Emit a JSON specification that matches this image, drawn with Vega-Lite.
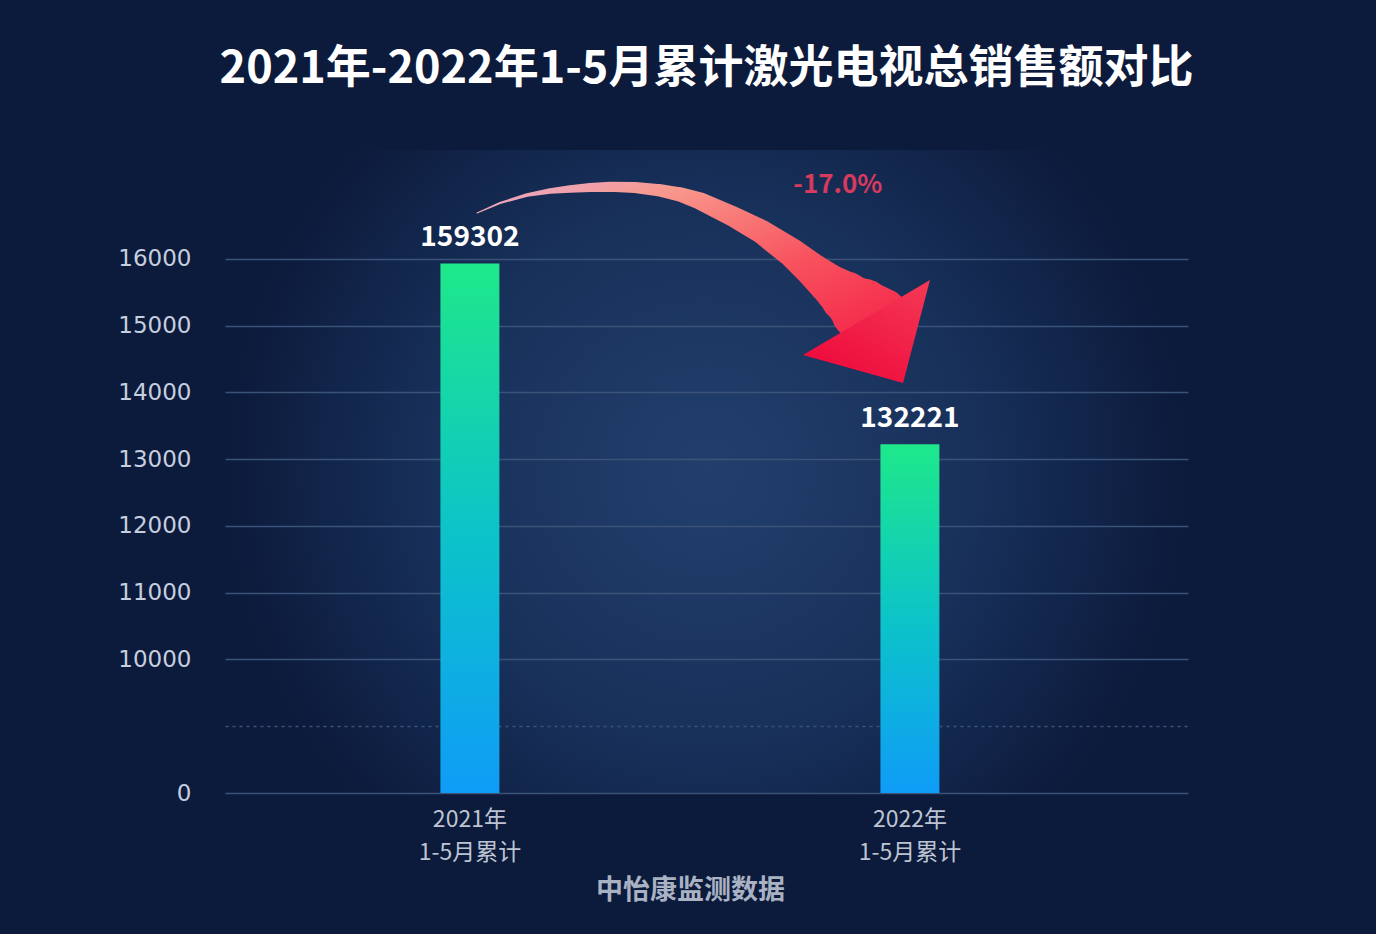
{
  "$schema": "https://vega.github.io/schema/vega-lite/v6.json",
  "autosize": {"type": "none"},
  "padding": {"left": 225, "top": 150, "right": 188, "bottom": 141},
  "width": 963,
  "height": 643,
  "background": "#0c1a3b",
  "view": {
    "stroke": null,
    "fill": {
      "gradient": "radial",
      "x1": 0.5, "y1": 0.5, "r1": 0,
      "x2": 0.5, "y2": 0.5, "r2": 0.5,
      "stops": [
        {"offset": 0, "color": "#223f6c"},
        {"offset": 0.55, "color": "#18315b"},
        {"offset": 1, "color": "#0c1a3b"}
      ]
    }
  },
  "title": {
    "text": "2021年-2022年1-5月累计激光电视总销售额对比",
    "font": "Noto Sans CJK SC",
    "fontSize": 45,
    "fontWeight": "bold",
    "color": "#ffffff",
    "anchor": "middle",
    "offset": 58
  },
  "datasets": {
    "sales": [
      {"period": "2021年|1-5月累计", "value": 159302},
      {"period": "2022年|1-5月累计", "value": 132221}
    ],
    "arrow": [
      {"i": 1, "ax": 0.0159, "ay": 166863, "w": 0.014},
      {"i": 2, "ax": 0.0682, "ay": 168361, "w": 0.029},
      {"i": 3, "ax": 0.1295, "ay": 169560, "w": 0.05},
      {"i": 4, "ax": 0.1818, "ay": 170159, "w": 0.079},
      {"i": 5, "ax": 0.2273, "ay": 170459, "w": 0.107},
      {"i": 6, "ax": 0.2727, "ay": 170683, "w": 0.129},
      {"i": 7, "ax": 0.3182, "ay": 170803, "w": 0.143},
      {"i": 8, "ax": 0.375, "ay": 170683, "w": 0.157},
      {"i": 9, "ax": 0.4318, "ay": 170249, "w": 0.179},
      {"i": 10, "ax": 0.4773, "ay": 169635, "w": 0.207},
      {"i": 11, "ax": 0.5227, "ay": 168661, "w": 0.25},
      {"i": 12, "ax": 0.5977, "ay": 166338, "w": 0.293},
      {"i": 13, "ax": 0.6636, "ay": 164016, "w": 0.343},
      {"i": 14, "ax": 0.7318, "ay": 160870, "w": 0.414},
      {"i": 15, "ax": 0.7727, "ay": 158622, "w": 0.471},
      {"i": 16, "ax": 0.8136, "ay": 156375, "w": 0.571},
      {"i": 17, "ax": 0.8545, "ay": 154277, "w": 0.729},
      {"i": 18, "ax": 0.8909, "ay": 152329, "w": 0.9},
      {"i": 19, "ax": 0.9205, "ay": 150831, "w": 1.0}
    ],
    "head": [
      {"ax": 0.9023, "ay": 149033}
    ],
    "change": [
      {"ax": 0.836, "ay": 171085, "label": "-17.0%"}
    ]
  },
  "layer": [
    {
      "layer": [
        {
          "data": {"name": "sales"},
          "mark": {
            "type": "bar",
            "width": {"band": 0.134},
            "color": {
              "gradient": "linear",
              "x1": 0, "y1": 0, "x2": 0, "y2": 1,
              "stops": [
                {"offset": 0, "color": "#1ee88a"},
                {"offset": 0.5, "color": "#0cc4c8"},
                {"offset": 1, "color": "#0f9cf7"}
              ]
            }
          },
          "encoding": {
            "x": {
              "field": "period",
              "type": "nominal",
              "sort": null,
              "scale": {"paddingInner": 0, "paddingOuter": 0.0943, "align": 0.3},
              "axis": {
                "title": "中怡康监测数据",
                "titleFont": "Noto Sans CJK SC",
                "titleFontSize": 27,
                "titleFontWeight": "bold",
                "titleColor": "#a9b2c3",
                "titlePadding": 13,
                "titleX": 465,
                "labelExpr": "split(datum.label, '|')",
                "labelFont": "Noto Sans CJK SC",
                "labelFontSize": 23,
                "labelColor": "#bcc4d2",
                "labelLineHeight": 33,
                "labelPadding": 15,
                "labelAngle": 0,
                "domain": false,
                "ticks": false,
                "grid": false
              }
            },
            "y": {
              "field": "value",
              "type": "quantitative",
              "scale": {"domain": [0, 90000, 176300], "range": [643, 576, 0], "nice": false, "zero": false},
              "axis": {
                "title": null,
                "values": [0, 90000, 100000, 110000, 120000, 130000, 140000, 150000, 160000],
                "labelExpr": "datum.value == 90000 ? '' : format(datum.value / 10, 'd')",
                "labelFont": "DejaVu Sans",
                "labelFontSize": 23,
                "labelColor": "#c5cfdf",
                "labelPadding": 34,
                "domain": false,
                "ticks": false,
                "grid": true,
                "gridColor": "#3b5379",
                "gridWidth": 1.5,
                "gridDash": {"condition": {"test": "datum.value == 90000", "value": [3, 4]}, "value": []}
              }
            }
          }
        },
        {
          "data": {"name": "sales"},
          "mark": {
            "type": "text",
            "font": "Noto Sans CJK SC",
            "fontSize": 28,
            "fontWeight": "bold",
            "color": "#ffffff",
            "baseline": "alphabetic",
            "dy": -17
          },
          "encoding": {
            "x": {"field": "period", "type": "nominal", "sort": null},
            "y": {"field": "value", "type": "quantitative", "title": null},
            "text": {"field": "value", "type": "quantitative", "format": "d"}
          }
        }
      ]
    },
    {
      "layer": [
        {
          "data": {"name": "arrow"},
          "mark": {
            "type": "trail",
            "color": {
              "gradient": "linear",
              "x1": 0, "y1": 0, "x2": 1, "y2": 1,
              "stops": [
                {"offset": 0, "color": "#e6acd0"},
                {"offset": 0.25, "color": "#f8988c"},
                {"offset": 0.6, "color": "#f7525e"},
                {"offset": 1, "color": "#f41a44"}
              ]
            }
          },
          "encoding": {
            "x": {"field": "ax", "type": "quantitative", "scale": {"domain": [-0.5568, 1.6318], "nice": false, "zero": false}, "axis": null},
            "y": {"field": "ay", "type": "quantitative", "title": null},
            "order": {"field": "i", "type": "quantitative"},
            "size": {"field": "w", "type": "quantitative", "scale": {"domain": [0, 1], "range": [0, 70]}, "legend": null}
          }
        },
        {
          "data": {"name": "head"},
          "mark": {
            "type": "point",
            "filled": true,
            "opacity": 1,
            "strokeWidth": 0,
            "size": 16900,
            "shape": "M-0.985,0.354 L0.969,-0.8 L0.554,0.785 Z",
            "color": {
              "gradient": "linear",
              "x1": 1, "y1": 0, "x2": 0.3, "y2": 1,
              "stops": [
                {"offset": 0, "color": "#f43a55"},
                {"offset": 1, "color": "#ee0a3c"}
              ]
            }
          },
          "encoding": {
            "x": {"field": "ax", "type": "quantitative", "scale": {"domain": [-0.5568, 1.6318], "nice": false, "zero": false}, "axis": null},
            "y": {"field": "ay", "type": "quantitative", "title": null}
          }
        },
        {
          "data": {"name": "change"},
          "mark": {
            "type": "text",
            "font": "Noto Sans CJK SC",
            "fontSize": 26,
            "fontWeight": "bold",
            "color": "#d63a5e",
            "baseline": "middle"
          },
          "encoding": {
            "x": {"field": "ax", "type": "quantitative", "scale": {"domain": [-0.5568, 1.6318], "nice": false, "zero": false}, "axis": null},
            "y": {"field": "ay", "type": "quantitative", "title": null},
            "text": {"field": "label"}
          }
        }
      ]
    }
  ],
  "resolve": {"scale": {"x": "independent"}, "axis": {"x": "independent"}},
  "config": {"font": "Noto Sans CJK SC"}
}
